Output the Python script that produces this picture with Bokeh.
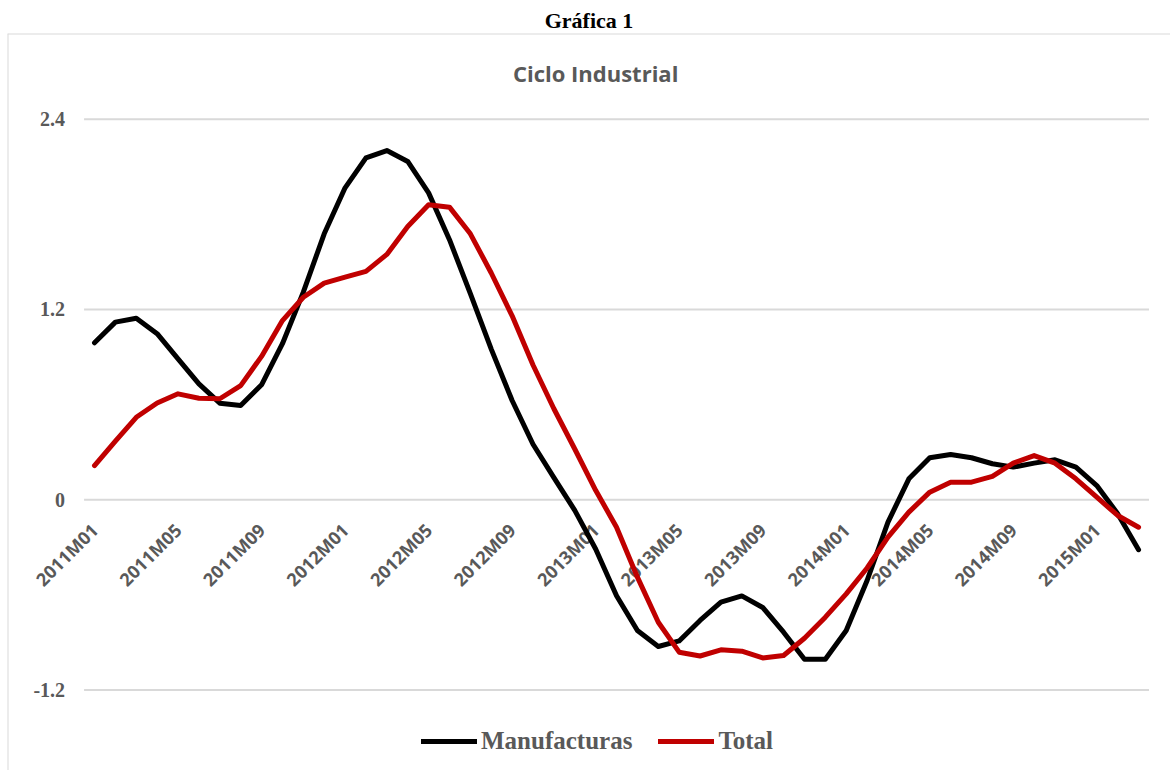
import math
from bokeh.plotting import figure
from bokeh.models import Range1d, Span, Legend, LegendItem
from bokeh.core.properties import value
from bokeh.embed import file_html
from bokeh.resources import INLINE

# ---------------- data ----------------
months = [f"{yr}M{m:02d}" for yr in range(2011, 2016) for m in range(1, 13)][:51]

manufacturas = [0.99, 1.12, 1.145, 1.047, 0.889, 0.731, 0.609, 0.595, 0.725, 0.984,
                1.309, 1.677, 1.967, 2.156, 2.202, 2.133, 1.935, 1.64, 1.30, 0.95,
                0.626, 0.35, 0.14, -0.067, -0.31, -0.605, -0.824, -0.925, -0.89, -0.761,
                -0.646, -0.606, -0.679, -0.835, -1.005, -1.005, -0.824, -0.509, -0.141, 0.132,
                0.265, 0.286, 0.265, 0.227, 0.206, 0.231, 0.252, 0.206, 0.09, -0.088,
                -0.315]

total = [0.216, 0.37, 0.52, 0.61, 0.668, 0.64, 0.637, 0.72, 0.904, 1.13,
         1.277, 1.366, 1.404, 1.44, 1.547, 1.723, 1.86, 1.845, 1.677, 1.43,
         1.16, 0.85, 0.574, 0.32, 0.06, -0.173, -0.488, -0.772, -0.961, -0.985,
         -0.946, -0.955, -0.997, -0.982, -0.873, -0.74, -0.593, -0.43, -0.236, -0.078,
         0.048, 0.111, 0.111, 0.147, 0.231, 0.279, 0.231, 0.132, 0.016, -0.099,
         -0.173]

tick_labels = ["2011M01", "2011M05", "2011M09", "2012M01", "2012M05", "2012M09",
               "2013M01", "2013M05", "2013M09", "2014M01", "2014M05", "2014M09",
               "2015M01"]

y_ticks = [2.4, 1.2, 0.0, -1.2]
y_tick_labels = ["2.4", "1.2", "0", "-1.2"]

series_names = ["Manufacturas", "Total"]
series_colors = ["#000000", "#C00000"]

# ---------------- plot ----------------
x = list(range(len(months)))
tick_x = [months.index(t) for t in tick_labels]

GRAY = "#595959"
SERIF = "Liberation Serif"
SANS = "Open Sans"

X0, X1 = -4.167, 51.53
Y0, Y1 = -1.707, 2.94

p = figure(width=1170, height=770,
           x_range=Range1d(X0, X1), y_range=Range1d(Y0, Y1),
           output_backend="svg", toolbar_location=None,
           x_axis_location=None, y_axis_location=None,
           min_border=0, min_border_left=7, min_border_top=33)
p.outline_line_color = None
p.background_fill_color = "white"
p.border_fill_color = "white"
p.grid.visible = False

p.title.text = "Gráfica 1"
p.title.align = "center"
p.title.text_font = SERIF
p.title.text_font_style = "bold"
p.title.text_font_size = "22px"
p.title.text_color = "black"
p.title.standoff = 1
p.title.offset = -3

# chart-area border (left and top visible)
p.add_layout(Span(location=X0, dimension="height", line_color="#d9d9d9", line_width=2))
p.add_layout(Span(location=Y1, dimension="width", line_color="#d9d9d9", line_width=2))

# gridlines
p.segment(x0=x[0] - 0.5, y0=y_ticks, x1=x[-1] + 0.5, y1=y_ticks,
          line_color="#d9d9d9", line_width=2)

# y tick labels
p.text(x=x[0] - 0.5, y=y_ticks, text=y_tick_labels, x_offset=-19,
       text_align="right", text_baseline="middle",
       text_font=value(SERIF), text_font_style="bold", text_font_size="20px",
       text_color=GRAY)

# x tick labels (rotated, next to the zero line)
p.text(x=tick_x, y=0.0, text=tick_labels, angle=math.pi / 4,
       text_align="right", text_baseline="middle", x_offset=0, y_offset=27,
       text_font=value(SANS), text_font_style="bold", text_font_size="18px",
       text_color=GRAY)

# chart title inside the box
p.text(x=[24.0], y=[2.694], text=["Ciclo Industrial"],
       text_align="center", text_baseline="middle",
       text_font=value(SANS), text_font_style="bold", text_font_size="22px",
       text_color=GRAY)

# series
r1 = p.line(x, manufacturas, line_color=series_colors[0], line_width=5,
            line_join="round", line_cap="round")
r2 = p.line(x, total, line_color=series_colors[1], line_width=5,
            line_join="round", line_cap="round")

legend = Legend(items=[LegendItem(label=series_names[0], renderers=[r1]),
                       LegendItem(label=series_names[1], renderers=[r2])],
                orientation="horizontal", location=(414, 15),
                label_text_font=SERIF, label_text_font_style="bold",
                label_text_font_size="25px", label_text_color=GRAY,
                glyph_width=56, glyph_height=20, label_standoff=4, spacing=26,
                padding=0, margin=0, border_line_color=None,
                background_fill_alpha=0)
p.add_layout(legend)

open("out.html", "w").write(file_html(p, INLINE))
